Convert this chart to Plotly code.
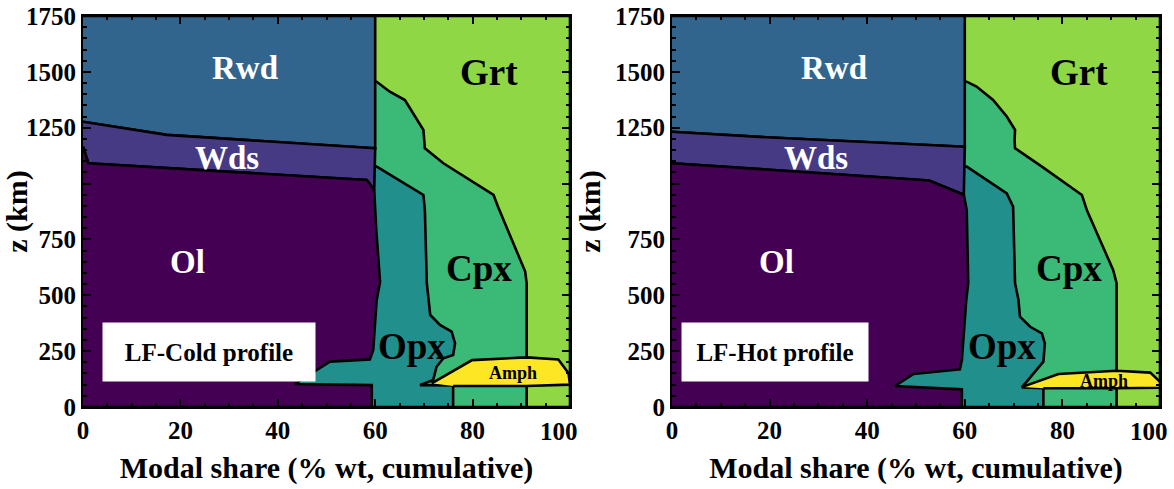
import plotly.graph_objects as go

# ---------------- data (x = cumulative modal share %, z = depth km) ----------------
X_TICKS = [0, 20, 40, 60, 80, 100]
X_TICKTEXT = ["0", "20", "40", "60", "80", ""]   # "100" is drawn nudged inward (as in the original)
X_LAST_LABEL = "100"
Z_TICKS = [0, 250, 500, 750, 1000, 1250, 1500, 1750]
Z_TICKTEXT = ["0", "250", "500", "750", "", "1250", "1500", "1750"]
X_MAX = 100
Z_MAX = 1750
OL_GROUP_EDGE = 60  # right edge of the olivine-polymorph field above the Ol field

# LF-Cold profile boundaries
COLD_WDS_RWD_X = [0, 17.2, 60]
COLD_WDS_RWD_Z = [1277, 1218, 1158]
COLD_OL_WDS_X = [0, 1.1, 58.3, 59.8]
COLD_OL_WDS_Z = [1165, 1091, 1016, 971]
COLD_OL_OPX_X = [60.2, 61.0, 60.3, 60.0, 59.6, 58.9, 50.7, 43.5, 59.3, 59.3]
COLD_OL_OPX_Z = [800, 560, 479, 360, 255, 213, 203, 103, 98, 0]
COLD_OPX_CPX_X = [60.3, 69.9, 70.2, 70.6, 70.9, 71.3, 73.3, 75.7, 76.4, 76.0, 74.0, 72.6, 71.9, 69.2, 76.0, 76.0]
COLD_OPX_CPX_Z = [1076, 949, 882, 554, 479, 412, 367, 337, 285, 233, 218, 180, 121, 98, 96, 0]
COLD_CPX_GRT_X = [60.3, 63.0, 66.1, 69.9, 70.2, 74.0, 84.3, 85.2, 90.8, 91.1, 91.1]
COLD_CPX_GRT_Z = [1456, 1411, 1374, 1240, 1158, 1091, 949, 897, 606, 554, 0]
COLD_AMPH_X = [71.6, 79.9, 91.1, 97.6, 99.7, 100, 91.1, 76.0]
COLD_AMPH_Z = [106, 210, 222, 213, 151, 100, 94, 94]

# LF-Hot profile boundaries
HOT_WDS_RWD_X = [0, 19.4, 60]
HOT_WDS_RWD_Z = [1232, 1207, 1165]
HOT_OL_WDS_X = [0, 52.7, 59.8]
HOT_OL_WDS_Z = [1091, 1014, 950]
HOT_OL_OPX_X = [60.4, 60.7, 60.3, 60.0, 59.4, 59.0, 49.5, 45.7, 59.4, 59.4]
HOT_OL_OPX_Z = [880, 554, 479, 389, 210, 169, 148, 94, 79, 0]
HOT_OPX_CPX_X = [60.4, 68.6, 69.9, 70.3, 71.0, 71.3, 73.4, 75.8, 76.4, 76.1, 71.7, 76.1, 76.1]
HOT_OPX_CPX_Z = [1076, 956, 897, 554, 479, 404, 359, 330, 285, 203, 88, 84, 0]
HOT_CPX_GRT_X = [60.4, 62.4, 65.8, 68.6, 70.3, 70.2, 70.3, 75.8, 84.0, 85.0, 90.4, 91.1, 91.1]
HOT_CPX_GRT_Z = [1456, 1434, 1374, 1300, 1240, 1195, 1158, 1076, 949, 882, 613, 554, 0]
HOT_AMPH_X = [71.8, 79.2, 91.1, 98.0, 100, 100, 91.1, 76.1]
HOT_AMPH_Z = [90, 148, 162, 154, 113, 86, 84, 84]

PHASES = ["Grt", "Cpx", "Opx", "Rwd", "Wds", "Ol", "Amph"]
COLORS = {
    "Ol": "#440154", "Wds": "#463a84", "Rwd": "#32658e", "Opx": "#21908d",
    "Cpx": "#3bb977", "Grt": "#8fd744", "Amph": "#fde725",
}

# label anchor positions (data units) per panel
LABEL_X = {"Rwd": 33.2, "Wds": 29.6, "Ol": 21.5, "Grt": 83.4, "Cpx": 81.4, "Opx": 67.6}
LABEL_Z = {"Rwd": 1517, "Wds": 1115, "Ol": 649, "Grt": 1495, "Cpx": 622, "Opx": 269}
AMPH_LABEL = {"cold": (88.3, 152), "hot": (88.5, 116)}
PROFILE_NAMES = {"cold": "LF-Cold profile", "hot": "LF-Hot profile"}
PROFILE_BOX = {"cold": (25.9, 246, 210), "hot": (21.1, 246, 184)}

FONT = "Liberation Serif"


def polygons(wr_x, wr_z, ow_x, ow_z, oo_x, oo_z, oc_x, oc_z, cg_x, cg_z, am_x, am_z):
    polys = {}
    polys["Grt"] = ([0, X_MAX, X_MAX, 0], [0, 0, Z_MAX, Z_MAX])
    polys["Cpx"] = ([0] + cg_x + [0], [cg_z[0]] + cg_z + [0])
    polys["Opx"] = ([0] + oc_x + [0], [oc_z[0]] + oc_z + [0])
    polys["Rwd"] = (wr_x + [OL_GROUP_EDGE, 0], wr_z + [Z_MAX, Z_MAX])
    polys["Wds"] = (wr_x + ow_x[::-1], wr_z + ow_z[::-1])
    polys["Ol"] = (ow_x + oo_x + [0], ow_z + oo_z + [0])
    polys["Amph"] = (am_x, am_z)
    return polys


panels = {
    "cold": polygons(COLD_WDS_RWD_X, COLD_WDS_RWD_Z, COLD_OL_WDS_X, COLD_OL_WDS_Z,
                     COLD_OL_OPX_X, COLD_OL_OPX_Z, COLD_OPX_CPX_X, COLD_OPX_CPX_Z,
                     COLD_CPX_GRT_X, COLD_CPX_GRT_Z, COLD_AMPH_X, COLD_AMPH_Z),
    "hot": polygons(HOT_WDS_RWD_X, HOT_WDS_RWD_Z, HOT_OL_WDS_X, HOT_OL_WDS_Z,
                    HOT_OL_OPX_X, HOT_OL_OPX_Z, HOT_OPX_CPX_X, HOT_OPX_CPX_Z,
                    HOT_CPX_GRT_X, HOT_CPX_GRT_Z, HOT_AMPH_X, HOT_AMPH_Z),
}

W, H = 1174, 489
PLOT_BOTTOM_PX = 407
PLOT_TOP_PX = 16

fig = go.Figure()
axis_ids = {"cold": ("x", "y"), "hot": ("x2", "y2")}
for key, polys in panels.items():
    xa, ya = axis_ids[key]
    for ph in PHASES:
        px, pz = polys[ph]
        fig.add_trace(go.Scatter(
            x=px, y=pz, mode="lines", fill="toself", fillcolor=COLORS[ph],
            line=dict(color="black", width=2.6), xaxis=xa, yaxis=ya,
            showlegend=False, hoverinfo="skip", name=ph,
        ))

tickfont = dict(family=FONT, size=25, color="black", weight="bold")
titlefont = dict(family=FONT, size=30, color="black", weight="bold")

annotations = []
for key in panels:
    xa, ya = axis_ids[key]
    for ph in ["Rwd", "Wds", "Ol"]:
        annotations.append(dict(x=LABEL_X[ph], y=LABEL_Z[ph], xref=xa, yref=ya, text=ph,
                                showarrow=False,
                                font=dict(family=FONT, size=33, color="white", weight="bold")))
    for ph in ["Grt", "Cpx", "Opx"]:
        annotations.append(dict(x=LABEL_X[ph], y=LABEL_Z[ph], xref=xa, yref=ya, text=ph,
                                showarrow=False,
                                font=dict(family=FONT, size=37, color="black", weight="bold")))
    ax_, az_ = AMPH_LABEL[key]
    annotations.append(dict(x=ax_, y=az_, xref=xa, yref=ya, text="Amph", showarrow=False,
                            font=dict(family=FONT, size=18, color="black", weight="bold")))
    bx, bz, bw = PROFILE_BOX[key]
    annotations.append(dict(x=bx, y=bz, xref=xa, yref=ya, text=PROFILE_NAMES[key],
                            showarrow=False, bgcolor="white", width=bw, height=56,
                            font=dict(family=FONT, size=25, color="black", weight="bold")))
    # last x tick label, nudged inward as in the original figure
    annotations.append(dict(x=X_TICKS[-1], y=(H - PLOT_BOTTOM_PX) / H, xref=xa, yref="paper",
                            text=X_LAST_LABEL, showarrow=False, xanchor="center",
                            yanchor="middle", xshift=-11, yshift=-24, font=tickfont))

xcommon = dict(range=[0, X_MAX], tickvals=X_TICKS, ticktext=X_TICKTEXT, ticks="inside",
               ticklen=8, tickwidth=2,
               tickcolor="black", showline=True, linewidth=2, linecolor="black",
               mirror="allticks", showgrid=False, zeroline=False, tickfont=tickfont,
               minor=dict(dtick=5, ticks="inside", ticklen=4, tickwidth=1.5, tickcolor="black",
                          showgrid=False),
               title=dict(text="Modal share (% wt, cumulative)", font=titlefont, standoff=14),
               layer="above traces", automargin=False)
ycommon = dict(range=[0, Z_MAX], tickvals=Z_TICKS, ticktext=Z_TICKTEXT, ticks="inside",
               ticklen=8, tickwidth=2, tickcolor="black", showline=True, linewidth=2,
               linecolor="black", mirror="allticks", showgrid=False, zeroline=False,
               tickfont=tickfont, ticklabeloverflow="allow",
               minor=dict(dtick=50, ticks="inside", ticklen=4, tickwidth=1.5, tickcolor="black",
                          showgrid=False),
               title=dict(text="z (km)", font=titlefont, standoff=6),
               layer="above traces", automargin=False)

fig.update_layout(
    width=W, height=H, margin=dict(l=0, r=0, t=0, b=0, autoexpand=False),
    paper_bgcolor="white", plot_bgcolor="white",
    xaxis=dict(domain=[83 / W, 570 / W], anchor="y", **xcommon),
    yaxis=dict(domain=[(H - PLOT_BOTTOM_PX) / H, (H - PLOT_TOP_PX) / H], anchor="x", **ycommon),
    xaxis2=dict(domain=[672 / W, 1160 / W], anchor="y2", **xcommon),
    yaxis2=dict(domain=[(H - PLOT_BOTTOM_PX) / H, (H - PLOT_TOP_PX) / H], anchor="x2", **ycommon),
    annotations=annotations,
)

fig.write_html("out.html")
